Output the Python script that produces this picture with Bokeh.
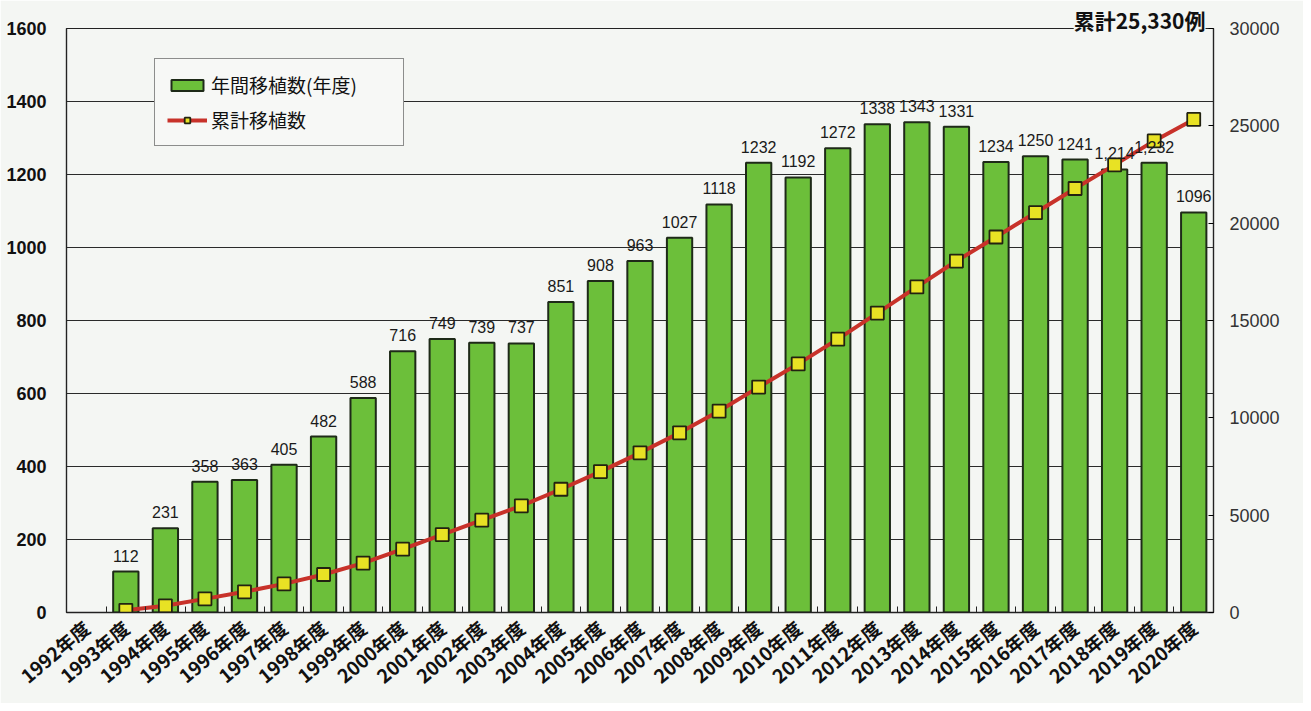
from bokeh.plotting import figure
from bokeh.models import (ColumnDataSource, Range1d, LinearAxis, FixedTicker,
                          LabelSet, Title, Legend, LegendItem)
from bokeh.core.properties import value
from bokeh.embed import file_html
from bokeh.resources import INLINE

# ---- data ----
years = ["1992年度", "1993年度", "1994年度", "1995年度", "1996年度", "1997年度",
         "1998年度", "1999年度", "2000年度", "2001年度", "2002年度", "2003年度",
         "2004年度", "2005年度", "2006年度", "2007年度", "2008年度", "2009年度",
         "2010年度", "2011年度", "2012年度", "2013年度", "2014年度", "2015年度",
         "2016年度", "2017年度", "2018年度", "2019年度", "2020年度"]
# annual transplants (bars start at 1993年度)
annual = [112, 231, 358, 363, 405, 482, 588, 716, 749, 739, 737, 851, 908, 963,
          1027, 1118, 1232, 1192, 1272, 1338, 1343, 1331, 1234, 1250, 1241,
          1214, 1232, 1096]
annual_labels = ["112", "231", "358", "363", "405", "482", "588", "716", "749",
                 "739", "737", "851", "908", "963", "1027", "1118", "1232",
                 "1192", "1272", "1338", "1343", "1331", "1234", "1250", "1241",
                 "1,214", "1,232", "1096"]
# cumulative transplants (right axis)
cumulative = [112, 343, 701, 1064, 1469, 1951, 2539, 3255, 4004, 4743, 5480,
              6331, 7239, 8202, 9229, 10347, 11579, 12771, 14043, 15381, 16724,
              18055, 19289, 20539, 21780, 22994, 24226, 25330]
left_ticks = [0, 200, 400, 600, 800, 1000, 1200, 1400, 1600]
right_ticks = [0, 5000, 10000, 15000, 20000, 25000, 30000]
total_text = "累計25,330例"
legend_bar = "年間移植数(年度)"
legend_line = "累計移植数"

BG = "#f4f6f3"
FONT = "Noto Sans CJK JP"
NUMFONT = "Liberation Sans"

first = years.index("1993年度")
xs = list(range(first, first + len(annual)))
src = ColumnDataSource(dict(x=xs, annual=annual, lab=annual_labels, cum=cumulative))

p = figure(width=1303, height=703, output_backend="svg", toolbar_location=None,
           x_range=Range1d(-0.5, len(years) - 0.5), y_range=Range1d(0, 1600),
           min_border_left=66, min_border_right=90, min_border_top=28,
           min_border_bottom=91)
p.background_fill_color = BG
p.border_fill_color = BG
p.outline_line_color = "#222222"
p.outline_line_width = 1.2
p.extra_y_ranges = {"cum": Range1d(0, 30000)}

# grid
p.xgrid.grid_line_color = None
p.ygrid.ticker = FixedTicker(ticks=left_ticks)
p.ygrid.grid_line_color = "#2a2a2a"
p.ygrid.grid_line_width = 1.2

# x axis
xa = p.xaxis[0]
xa.ticker = FixedTicker(ticks=list(range(len(years))),
                        minor_ticks=[i - 0.5 for i in range(len(years) + 1)])
xa.major_label_overrides = {i: y for i, y in enumerate(years)}
xa.major_label_orientation = 0.7
xa.major_tick_line_color = None
xa.minor_tick_in = 6
xa.minor_tick_out = 0
xa.minor_tick_line_color = "#222222"
xa.axis_line_color = "#222222"
xa.axis_line_width = 1.5
xa.major_label_text_font = FONT
xa.major_label_text_font_style = "bold"
xa.major_label_text_font_size = "19px"
xa.major_label_text_color = "#111111"
xa.major_label_standoff = 6

# left axis
ya = p.yaxis[0]
ya.ticker = FixedTicker(ticks=left_ticks)
ya.major_tick_line_color = None
ya.minor_tick_line_color = None
ya.axis_line_color = "#222222"
ya.axis_line_width = 1.2
ya.major_label_text_font = NUMFONT
ya.major_label_text_font_style = "bold"
ya.major_label_text_font_size = "18px"
ya.major_label_text_color = "#111111"
ya.major_label_standoff = 14

# right axis
ra = LinearAxis(y_range_name="cum", ticker=FixedTicker(ticks=right_ticks))
ra.major_tick_in = 5
ra.major_tick_out = 0
ra.minor_tick_line_color = None
ra.axis_line_color = "#222222"
ra.axis_line_width = 1.2
ra.major_label_text_font = NUMFONT
ra.major_label_text_font_size = "18px"
ra.major_label_text_color = "#333333"
ra.major_label_standoff = 16
p.add_layout(ra, "right")

# bars
bars = p.vbar(x="x", top="annual", width=0.64, source=src,
              fill_color="#6cbf3a", line_color="#1e2a18", line_width=2)

# value labels
labels = LabelSet(x="x", y="annual", text="lab", source=src, y_offset=10,
                  text_align="center", text_baseline="bottom",
                  text_font=value(NUMFONT), text_font_size="16px",
                  text_color="#1a1a1a")
p.add_layout(labels)

# cumulative line
ln = p.line(x="x", y="cum", source=src, y_range_name="cum",
            line_color="#c8322a", line_width=4)
mk = p.scatter(x="x", y="cum", source=src, y_range_name="cum", marker="square",
               size=13, fill_color="#e8e224", line_color="#222211", line_width=1.8)

# total annotation (as a title pushed down onto the top frame line)
p.add_layout(Title(text=total_text, align="right", offset=8, standoff=-12,
                   text_font=FONT, text_font_style="bold", text_font_size="21px",
                   text_color="#111111", background_fill_color=BG), "above")

legend = Legend(items=[LegendItem(label=legend_bar, renderers=[bars]),
                       LegendItem(label=legend_line, renderers=[ln, mk])],
                location=(88, 466), orientation="vertical",
                label_text_font=FONT, label_text_font_size="19px",
                label_text_color="#111111", glyph_width=40, glyph_height=14,
                label_height=24, label_width=180, spacing=8, padding=12,
                margin=0, label_standoff=4,
                border_line_color="#222222", border_line_width=1.2,
                background_fill_color="#f7f8f6", background_fill_alpha=1.0)
p.add_layout(legend)

open("out.html", "w").write(file_html(p, INLINE))
